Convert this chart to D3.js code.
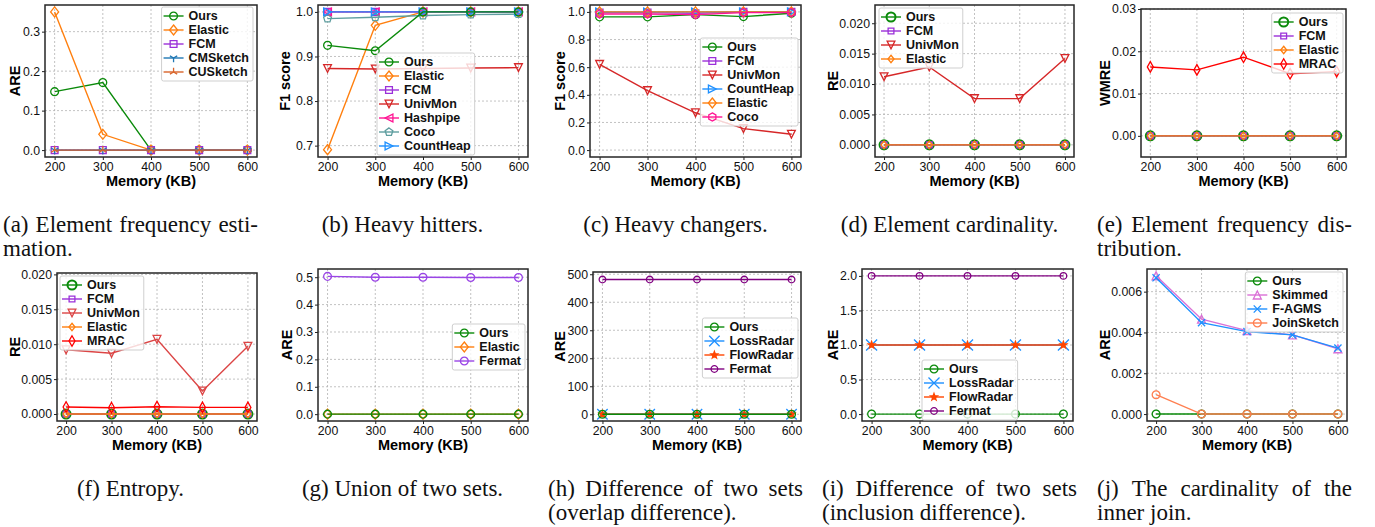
<!DOCTYPE html>
<html>
<head>
<meta charset="utf-8">
<script src="https://cdn.jsdelivr.net/npm/d3@7"></script>
<style>
body { margin: 0; background: #fff; }
svg { display: block; }
</style>
</head>
<body>
<svg id="fig" width="1375" height="527"></svg>
<script>
var memory = [200, 300, 400, 500, 600];
var memoryTicks = [200, 300, 400, 500, 600];

// (a) element frequency estimation
var aOurs = [0.148, 0.171, 0, 0, 0];
var aElastic = [0.35, 0.04, 0, 0, 0];
var aFCM = [0, 0, 0, 0, 0];
var aCMSketch = [0, 0, 0, 0, 0];
var aCUSketch = [0, 0, 0, 0, 0];
var aTicks = [0, 0.1, 0.2, 0.3];

// (b) heavy hitters
var bOurs = [0.925, 0.913, 1.0, 1.0, 1.0];
var bElastic = [0.691, 0.970, 1.0, 1.0, 1.0];
var bFCM = [1.0, 1.0, 1.0, 1.0, 1.0];
var bUnivMon = [0.873, 0.872, 0.873, 0.874, 0.875];
var bHashpipe = [1.0, 1.0, 1.0, 1.0, 1.0];
var bCoco = [0.985, 0.988, 0.992, 0.994, 0.995];
var bCountHeap = [1.0, 1.0, 1.0, 1.0, 1.0];
var bTicks = [0.7, 0.8, 0.9, 1.0];

// (c) heavy changers
var cOurs = [0.964, 0.964, 0.98, 0.966, 0.99];
var cFCM = [0.995, 0.995, 0.99, 1.0, 1.0];
var cUnivMon = [0.62, 0.43, 0.27, 0.155, 0.115];
var cCountHeap = [1.0, 1.0, 1.0, 1.0, 1.0];
var cElastic = [1.0, 1.0, 1.0, 1.0, 1.0];
var cCoco = [0.985, 0.985, 0.98, 0.995, 0.995];
var cTicks = [0, 0.2, 0.4, 0.6, 0.8, 1.0];

// (d) element cardinality
var dOurs = [0, 0, 0, 0, 0];
var dFCM = [0, 0, 0, 0, 0];
var dUnivMon = [0.0112, 0.0128, 0.0076, 0.0076, 0.0142];
var dElastic = [0, 0, 0, 0, 0];
var dTicks = [0, 0.005, 0.01, 0.015, 0.02];

// (e) element frequency distribution
var eOurs = [0, 0, 0, 0, 0];
var eFCM = [0, 0, 0, 0, 0];
var eElastic = [0, 0, 0, 0, 0];
var eMRAC = [0.0163, 0.0156, 0.0186, 0.0147, 0.0152];
var eTicks = [0, 0.01, 0.02, 0.03];

// (f) entropy
var fOurs = [0, 0, 0, 0, 0];
var fFCM = [0, 0, 0, 0, 0];
var fUnivMon = [0.0092, 0.0087, 0.0107, 0.0033, 0.0097];
var fElastic = [0, 0, 0, 0, 0];
var fMRAC = [0.001, 0.0009, 0.00105, 0.00095, 0.00095];
var fTicks = [0, 0.005, 0.01, 0.015, 0.02];

// (g) union of two sets
var gOurs = [0, 0, 0, 0, 0];
var gElastic = [0, 0, 0, 0, 0];
var gFermat = [0.503, 0.5, 0.5, 0.499, 0.499];
var gTicks = [0, 0.1, 0.2, 0.3, 0.4, 0.5];

// (h) overlap difference
var hOurs = [0, 0, 0, 0, 0];
var hLossRadar = [0, 0, 0, 0, 0];
var hFlowRadar = [0, 0, 0, 0, 0];
var hFermat = [481, 481, 481, 481, 481];
var hTicks = [0, 100, 200, 300, 400, 500];

// (i) inclusion difference
var iOurs = [0, 0, 0, 0, 0];
var iLossRadar = [1, 1, 1, 1, 1];
var iFlowRadar = [1, 1, 1, 1, 1];
var iFermat = [2, 2, 2, 2, 2];
var iTicks = [0, 0.5, 1.0, 1.5, 2.0];

// (j) inner join cardinality
var jOurs = [0, 0, 0, 0, 0];
var jSkimmed = [0.00678, 0.00465, 0.00409, 0.00388, 0.0032];
var jFAGMS = [0.00668, 0.00448, 0.00404, 0.00388, 0.00323];
var jJoinSketch = [0.00095, 0, 0, 0, 0];
var jTicks = [0, 0.002, 0.004, 0.006];

var captionA = ["(a) Element frequency esti-", "mation."];
var captionB = ["(b) Heavy hitters."];
var captionC = ["(c) Heavy changers."];
var captionD = ["(d) Element cardinality."];
var captionE = ["(e) Element frequency dis-", "tribution."];
var captionF = ["(f) Entropy."];
var captionG = ["(g) Union of two sets."];
var captionH = ["(h) Difference of two sets", "(overlap difference)."];
var captionI = ["(i) Difference of two sets", "(inclusion difference)."];
var captionJ = ["(j) The cardinality of the", "inner join."];

var sans = "'Liberation Sans', Arial, sans-serif";
var serif = "'Liberation Serif', 'Times New Roman', serif";
var svg = d3.select("#fig");

var GREEN = "#0a8a0a", ORANGE = "#ff7f0e", VIOLET = "#9b30d9", RED = "#d62728";

function poly(n, r, start) {
    var pts = [];
    for (var k = 0; k < n; k++) {
        var a = (start + k * 360 / n) * Math.PI / 180;
        pts.push([r * Math.cos(a), r * Math.sin(a)]);
    }
    return "M" + pts.map(function (p) { return p[0].toFixed(2) + "," + p[1].toFixed(2); }).join("L") + "Z";
}

function mk(type, r) {
    var c = 0.87 * r, s;
    switch (type) {
        case "o": return "M" + r + ",0A" + r + "," + r + " 0 1,1 " + (-r) + ",0A" + r + "," + r + " 0 1,1 " + r + ",0Z";
        case "s": s = r * 0.85; return "M" + (-s) + "," + (-s) + "H" + s + "V" + s + "H" + (-s) + "Z";
        case "D": return "M0," + (-r * 1.25) + "L" + r + ",0L0," + (r * 1.25) + "L" + (-r) + ",0Z";
        case "d": return "M0," + (-r * 1.15) + "L" + (r * 0.65) + ",0L0," + (r * 1.15) + "L" + (-r * 0.65) + ",0Z";
        case "v": return "M" + (-r) + "," + (-r) + "L" + r + "," + (-r) + "L0," + r + "Z";
        case "^": return "M" + (-r) + "," + r + "L" + r + "," + r + "L0," + (-r) + "Z";
        case "<": return "M" + r + "," + (-r) + "L" + r + "," + r + "L" + (-r) + ",0Z";
        case ">": return "M" + (-r) + "," + (-r) + "L" + (-r) + "," + r + "L" + r + ",0Z";
        case "p": return poly(5, r * 1.05, -90);
        case "h": return poly(6, r * 1.05, -90);
        case "1": return "M0,0L0," + r + "M0,0L" + (-c) + "," + (-r / 2) + "M0,0L" + c + "," + (-r / 2);
        case "2": return "M0,0L0," + (-r) + "M0,0L" + (-c) + "," + (r / 2) + "M0,0L" + c + "," + (r / 2);
        case "x": return "M" + (-r) + "," + (-r) + "L" + r + "," + r + "M" + (-r) + "," + r + "L" + r + "," + (-r);
        case "*":
            var pts = [];
            for (var k = 0; k < 10; k++) {
                var a = (-90 + k * 36) * Math.PI / 180, rr = k % 2 ? r * 0.45 : r * 1.1;
                pts.push((rr * Math.cos(a)).toFixed(2) + "," + (rr * Math.sin(a)).toFixed(2));
            }
            return "M" + pts.join("L") + "Z";
    }
}

function drawSeriesMarks(g, s, xf, yf) {
    g.append("g").selectAll("path").data(s.values).join("path")
        .attr("transform", function (d, i) { return "translate(" + xf(i, d) + "," + yf(d) + ")"; })
        .attr("d", mk(s.marker, s.r || 3.9))
        .attr("fill", s.marker === "*" ? s.color : "none")
        .attr("stroke", s.color)
        .attr("stroke-width", s.mw || 1.3);
}

function drawPanel(p) {
    var x = d3.scaleLinear().domain([180, 620]).range([p.left, p.right]);
    var y = d3.scaleLinear().domain(p.yDomain).range([p.bottom, p.top]);
    var g = svg.append("g");

    // dotted grid
    g.append("g").selectAll("line").data(memoryTicks).join("line")
        .attr("x1", function (d) { return x(d); }).attr("x2", function (d) { return x(d); })
        .attr("y1", p.top).attr("y2", p.bottom)
        .attr("stroke", "#b3b3b3").attr("stroke-width", 0.8).attr("stroke-dasharray", "2,2");
    g.append("g").selectAll("line").data(p.yTicks).join("line")
        .attr("y1", function (d) { return y(d); }).attr("y2", function (d) { return y(d); })
        .attr("x1", p.left).attr("x2", p.right)
        .attr("stroke", "#b3b3b3").attr("stroke-width", 0.8).attr("stroke-dasharray", "2,2");

    var xAxis = g.append("g").attr("transform", "translate(0," + p.bottom + ")")
        .call(d3.axisBottom(x).tickValues(memoryTicks).tickFormat(d3.format("d")).tickSize(3).tickPadding(2));
    var yAxis = g.append("g").attr("transform", "translate(" + p.left + ",0)")
        .call(d3.axisLeft(y).tickValues(p.yTicks).tickFormat(d3.format(p.fmt)).tickSize(3).tickPadding(2));
    [xAxis, yAxis].forEach(function (a) {
        a.select(".domain").remove();
        a.selectAll("text").attr("font-family", sans).attr("font-size", 12.3).attr("fill", "#111");
        a.selectAll("line").attr("stroke", "#222");
    });

    var line = d3.line().x(function (d, i) { return x(memory[i]); }).y(function (d) { return y(d); });
    var order = p.series.slice().sort(function (a, b) { return (a.z || 0) - (b.z || 0); });
    order.forEach(function (s) {
        g.append("path").attr("d", line(s.values))
            .attr("fill", "none").attr("stroke", s.color).attr("stroke-width", s.lw || 1.4);
        drawSeriesMarks(g, s, function (i) { return x(memory[i]); }, y);
    });

    g.append("rect")
        .attr("x", p.left).attr("y", p.top)
        .attr("width", p.right - p.left).attr("height", p.bottom - p.top)
        .attr("fill", "none").attr("stroke", "#262626").attr("stroke-width", 1.5);

    g.append("text")
        .attr("x", (p.left + p.right) / 2).attr("y", p.bottom + 29)
        .attr("text-anchor", "middle")
        .attr("font-family", sans).attr("font-weight", "bold").attr("font-size", 14.5)
        .text("Memory (KB)");

    g.append("text")
        .attr("transform", "translate(" + (p.ylabelX + 5) + "," + ((p.top + p.bottom) / 2) + ") rotate(-90)")
        .attr("text-anchor", "middle")
        .attr("font-family", sans).attr("font-weight", "bold").attr("font-size", 14.5)
        .text(p.ylabel);

    // legend
    var L = p.legend, rowH = 14;
    var lg = g.append("g");
    var box = lg.append("rect");
    var maxW = 0;
    p.series.forEach(function (s, i) {
        var cy = 9 + i * rowH;
        lg.append("line").attr("x1", 2).attr("x2", 22).attr("y1", cy).attr("y2", cy)
            .attr("stroke", s.color).attr("stroke-width", s.lw || 1.4);
        var mg = lg.append("g");
        drawSeriesMarks(mg, { values: [0], marker: s.marker, r: s.r, mw: s.mw, color: s.color },
            function () { return 12; }, function () { return cy; });
        var t = lg.append("text").attr("x", 27).attr("y", cy + 4.3)
            .attr("font-family", sans).attr("font-weight", "bold").attr("font-size", 12.5)
            .attr("fill", "#111").text(s.name);
        maxW = Math.max(maxW, t.node().getComputedTextLength());
    });
    var w = 27 + maxW + 4, h = p.series.length * rowH + 4;
    box.attr("x", 0).attr("y", 0).attr("width", w).attr("height", h).attr("rx", 2)
        .attr("fill", "#fff").attr("fill-opacity", 0.8).attr("stroke", "#cfcfcf").attr("stroke-width", 1);
    var lx = L.anchor === "right" ? L.x - w : L.x;
    lg.attr("transform", "translate(" + lx + "," + L.y + ")");
}

var colLeft = [3, 275, 548, 822, 1097], colW = 255;

function drawCaption(lines, col, baseY) {
    var left = colLeft[col];
    lines.forEach(function (ln, k) {
        var yb = baseY + k * 24;
        var t = svg.append("text").attr("y", yb)
            .attr("font-family", serif).attr("font-size", 23).attr("fill", "#111");
        if (lines.length === 1) {
            t.attr("x", left + colW / 2).attr("text-anchor", "middle").text(ln);
        } else if (k < lines.length - 1) {
            // justified first line
            var words = ln.split(" ");
            var spans = words.map(function (wd) { return t.append("tspan").text(wd); });
            var widths = spans.map(function (sp) { return sp.node().getComputedTextLength(); });
            var gap = (colW - d3.sum(widths)) / (words.length - 1);
            var cx = left;
            spans.forEach(function (sp, i) { sp.attr("x", cx); cx += widths[i] + gap; });
        } else {
            t.attr("x", left).text(ln);
        }
    });
}

var panels = [
    { left: 45, right: 257, top: 5, bottom: 157, yDomain: [-0.0175, 0.3675], yTicks: aTicks, fmt: ".1f",
      ylabel: "ARE", ylabelX: 15, legend: { x: 253, y: 7, anchor: "right" },
      series: [
        { name: "Ours", values: aOurs, color: GREEN, marker: "o" },
        { name: "Elastic", values: aElastic, color: ORANGE, marker: "D", r: 4 },
        { name: "FCM", values: aFCM, color: VIOLET, marker: "s", r: 4 },
        { name: "CMSketch", values: aCMSketch, color: "#1f77b4", marker: "1", r: 4.2 },
        { name: "CUSketch", values: aCUSketch, color: "#d9642a", marker: "2", r: 4.2 }
      ] },
    { left: 318, right: 528, top: 5, bottom: 157, yDomain: [0.6745, 1.0155], yTicks: bTicks, fmt: ".1f",
      ylabel: "F1 score", ylabelX: 285, legend: { x: 377, y: 53, anchor: "left" },
      series: [
        { name: "Ours", values: bOurs, color: GREEN, marker: "o", z: 2 },
        { name: "Elastic", values: bElastic, color: ORANGE, marker: "D", r: 4 },
        { name: "FCM", values: bFCM, color: VIOLET, marker: "s", r: 4 },
        { name: "UnivMon", values: bUnivMon, color: RED, marker: "v" },
        { name: "Hashpipe", values: bHashpipe, color: "#ff1493", marker: "<" },
        { name: "Coco", values: bCoco, color: "#5f9ea0", marker: "p" },
        { name: "CountHeap", values: bCountHeap, color: "#1e90ff", marker: ">" }
      ] },
    { left: 590, right: 801, top: 5, bottom: 157, yDomain: [-0.05, 1.05], yTicks: cTicks, fmt: ".1f",
      ylabel: "F1 score", ylabelX: 560, legend: { x: 798, y: 38, anchor: "right" },
      series: [
        { name: "Ours", values: cOurs, color: GREEN, marker: "o" },
        { name: "FCM", values: cFCM, color: VIOLET, marker: "s", r: 4 },
        { name: "UnivMon", values: cUnivMon, color: RED, marker: "v" },
        { name: "CountHeap", values: cCountHeap, color: "#1e90ff", marker: ">" },
        { name: "Elastic", values: cElastic, color: ORANGE, marker: "D", r: 4 },
        { name: "Coco", values: cCoco, color: "#ff1493", marker: "h" }
      ] },
    { left: 875, right: 1074, top: 5, bottom: 157, yDomain: [-0.002, 0.023], yTicks: dTicks, fmt: ".3f",
      ylabel: "RE", ylabelX: 833, legend: { x: 879, y: 8, anchor: "left" },
      series: [
        { name: "Ours", values: dOurs, color: GREEN, marker: "o", r: 4.5, mw: 2 },
        { name: "FCM", values: dFCM, color: VIOLET, marker: "s", r: 3.4 },
        { name: "UnivMon", values: dUnivMon, color: RED, marker: "v" },
        { name: "Elastic", values: dElastic, color: ORANGE, marker: "D", r: 3 }
      ] },
    { left: 1141, right: 1346, top: 9, bottom: 157, yDomain: [-0.005, 0.03], yTicks: eTicks, fmt: ".2f",
      ylabel: "WMRE", ylabelX: 1105, legend: { x: 1343, y: 13, anchor: "right" },
      series: [
        { name: "Ours", values: eOurs, color: GREEN, marker: "o", r: 4.5, mw: 2 },
        { name: "FCM", values: eFCM, color: VIOLET, marker: "s", r: 3.4 },
        { name: "Elastic", values: eElastic, color: ORANGE, marker: "D", r: 3 },
        { name: "MRAC", values: eMRAC, color: "#ff0000", marker: "d", r: 4.6 }
      ] },
    { left: 57, right: 257, top: 273, bottom: 421, yDomain: [-0.001, 0.0202], yTicks: fTicks, fmt: ".3f",
      ylabel: "RE", ylabelX: 15, legend: { x: 60, y: 276, anchor: "left" },
      series: [
        { name: "Ours", values: fOurs, color: GREEN, marker: "o", r: 4.5, mw: 2 },
        { name: "FCM", values: fFCM, color: VIOLET, marker: "s", r: 3.4 },
        { name: "UnivMon", values: fUnivMon, color: "#dc4545", marker: "v" },
        { name: "Elastic", values: fElastic, color: ORANGE, marker: "D", r: 3 },
        { name: "MRAC", values: fMRAC, color: "#ff0000", marker: "d", r: 4.6 }
      ] },
    { left: 318, right: 528, top: 269, bottom: 421, yDomain: [-0.025, 0.53], yTicks: gTicks, fmt: ".1f",
      ylabel: "ARE", ylabelX: 287, legend: { x: 525, y: 324, anchor: "right" },
      series: [
        { name: "Ours", values: gOurs, color: GREEN, marker: "o", z: 2 },
        { name: "Elastic", values: gElastic, color: ORANGE, marker: "D", r: 4 },
        { name: "Fermat", values: gFermat, color: "#9a45e6", marker: "o" }
      ] },
    { left: 593, right: 801, top: 272, bottom: 421, yDomain: [-24, 508], yTicks: hTicks, fmt: "d",
      ylabel: "ARE", ylabelX: 560, legend: { x: 798, y: 318, anchor: "right" },
      series: [
        { name: "Ours", values: hOurs, color: GREEN, marker: "o", z: 2 },
        { name: "LossRadar", values: hLossRadar, color: "#1e90ff", marker: "x", r: 5.2 },
        { name: "FlowRadar", values: hFlowRadar, color: "#ff4500", marker: "*", r: 3.2 },
        { name: "Fermat", values: hFermat, color: "#800080", marker: "o", r: 3.3 }
      ] },
    { left: 862, right: 1073, top: 269, bottom: 421, yDomain: [-0.1, 2.1], yTicks: iTicks, fmt: ".1f",
      ylabel: "ARE", ylabelX: 833, legend: { x: 922, y: 360, anchor: "left" },
      series: [
        { name: "Ours", values: iOurs, color: GREEN, marker: "o" },
        { name: "LossRadar", values: iLossRadar, color: "#1e90ff", marker: "x", r: 5.5 },
        { name: "FlowRadar", values: iFlowRadar, color: "#ff4500", marker: "*", r: 3.2 },
        { name: "Fermat", values: iFermat, color: "#800080", marker: "o", r: 3.3 }
      ] },
    { left: 1147, right: 1347, top: 269, bottom: 421, yDomain: [-0.00034, 0.00711], yTicks: jTicks, fmt: ".3f",
      ylabel: "ARE", ylabelX: 1105, legend: { x: 1343, y: 272, anchor: "right" },
      series: [
        { name: "Ours", values: jOurs, color: GREEN, marker: "o" },
        { name: "Skimmed", values: jSkimmed, color: "#da70d6", marker: "^", r: 4 },
        { name: "F-AGMS", values: jFAGMS, color: "#1e90ff", marker: "x", r: 3.6 },
        { name: "JoinSketch", values: jJoinSketch, color: "#ff7f50", marker: "o" }
      ] }
];

panels.forEach(drawPanel);

var captions = [captionA, captionB, captionC, captionD, captionE, captionF, captionG, captionH, captionI, captionJ];
captions.forEach(function (c, k) {
    drawCaption(c, k % 5, k < 5 ? 232 : 496);
});
</script>
</body>
</html>
